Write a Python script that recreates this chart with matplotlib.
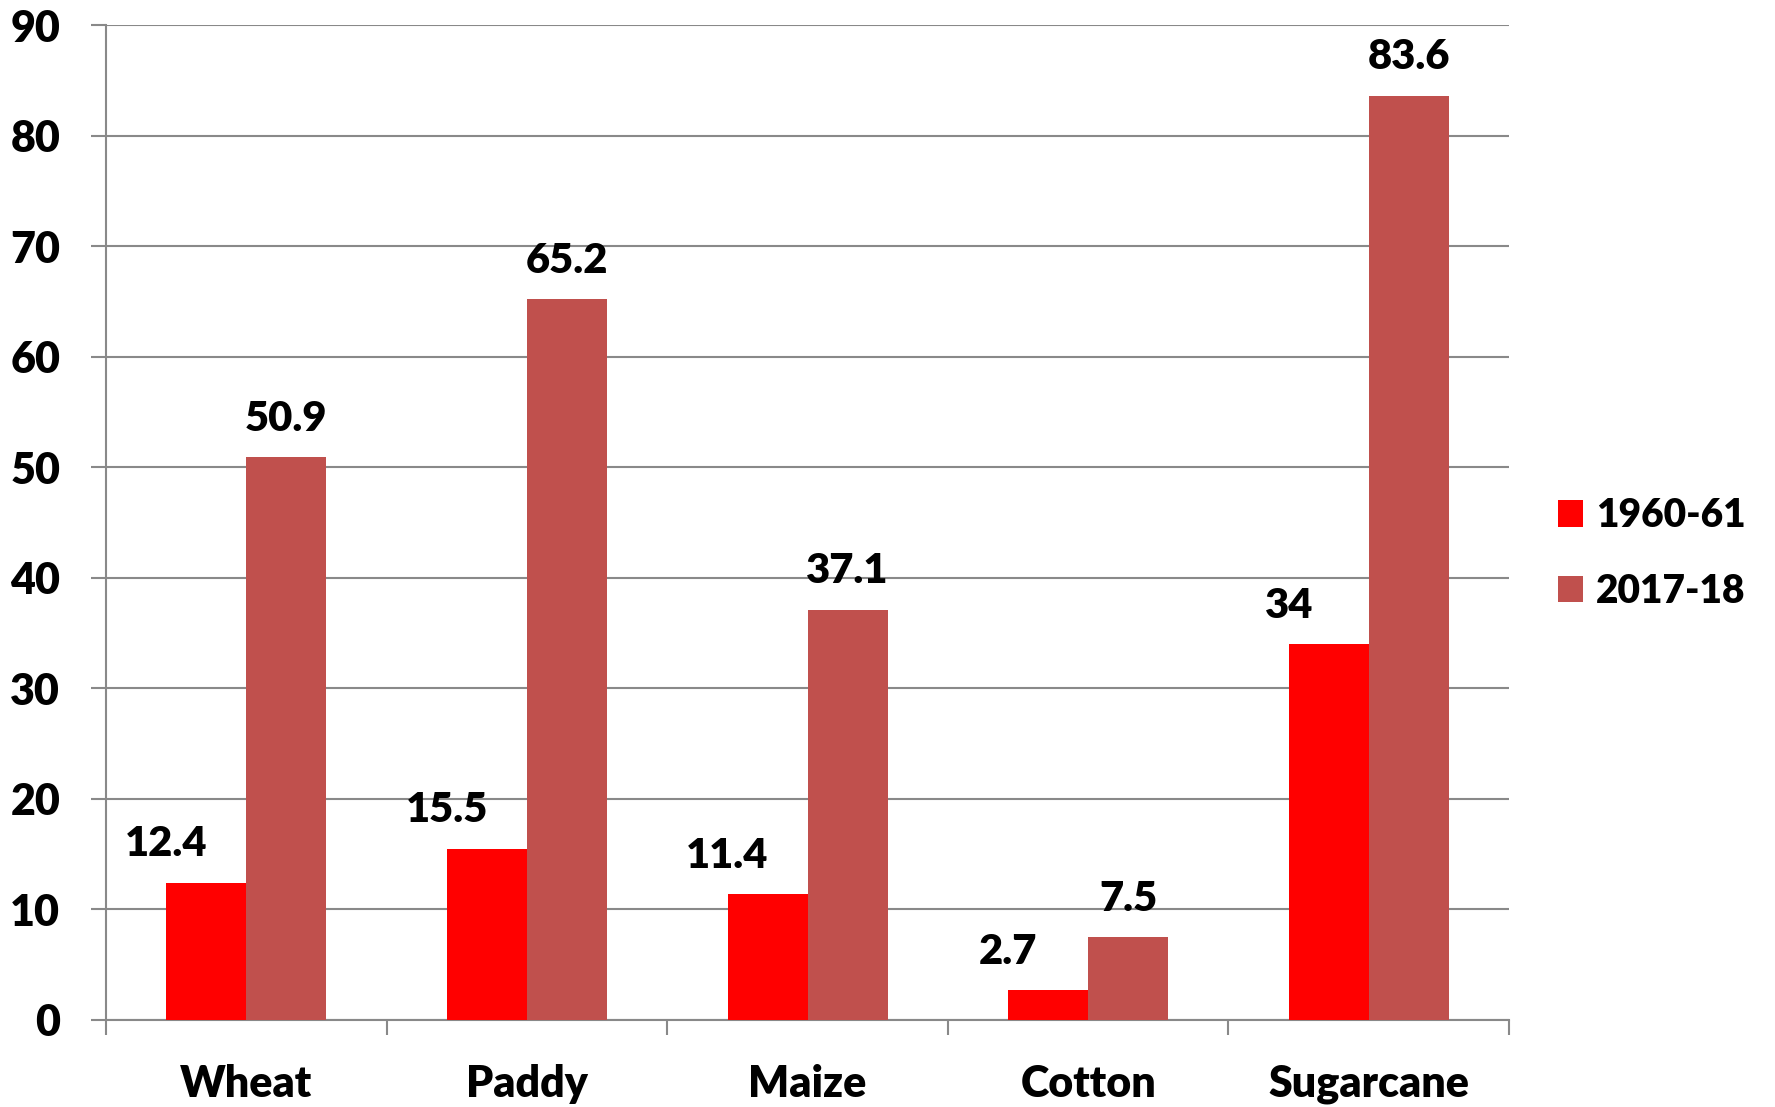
import matplotlib.pyplot as plt
import numpy as np

crops = ['Wheat', 'Paddy', 'Maize', 'Cotton', 'Sugarcane']
yield_1960 = [12.4, 15.5, 11.4, 2.7, 34]
yield_2017 = [50.9, 65.2, 37.1, 7.5, 83.6]
series = ['1960-61', '2017-18']
colors = ['#FF0000', '#C0504D']

plt.rcParams['font.family'] = ['Lato', 'DejaVu Sans']
plt.rcParams['font.weight'] = 'heavy'
wt = 'heavy'

fig = plt.figure(figsize=(17.75, 11.07), dpi=100)
ax = fig.add_axes([0.0597, 0.0786, 0.7905, 0.8988])

x = np.arange(len(crops))
w = 0.285
b1 = ax.bar(x - w / 2, yield_1960, w, color=colors[0], label=series[0], zorder=3)
b2 = ax.bar(x + w / 2, yield_2017, w, color=colors[1], label=series[1], zorder=3)

# data labels: Excel-style, red labels sit over the left edge of the bar
for xi, v in zip(x, yield_1960):
    ax.annotate('%g' % v, (xi - w, v), xytext=(0, 14), textcoords='offset points',
                ha='center', va='bottom', fontsize=30, fontweight=wt)
for xi, v in zip(x, yield_2017):
    ax.annotate('%g' % v, (xi + w / 2, v), xytext=(0, 14), textcoords='offset points',
                ha='center', va='bottom', fontsize=30, fontweight=wt)

ax.set_xlim(-0.5, len(crops) - 0.5)
ax.set_ylim(0, 90)
ax.set_yticks(np.arange(0, 91, 10))
ax.yaxis.grid(True, color='#898989', linewidth=1.5, zorder=0)
ax.set_xticks(x)
ax.set_xticklabels(crops, fontsize=31, fontweight=wt)
ax.set_xticks(np.arange(-0.5, len(crops), 1), minor=True)
ax.tick_params(axis='x', which='major', length=0, pad=32)
ax.tick_params(axis='x', which='minor', length=11, width=1.5, color='#898989')
ax.tick_params(axis='y', length=11, width=1.5, color='#898989', pad=22, labelsize=31)
for lbl in ax.get_yticklabels():
    lbl.set_fontweight(wt)

for s in ['top', 'right']:
    ax.spines[s].set_visible(False)
for s in ['left', 'bottom']:
    ax.spines[s].set_color('#898989')
    ax.spines[s].set_linewidth(1.5)

fig.legend(handles=[b1, b2], loc='center left', bbox_to_anchor=(0.8775, 0.5),
           frameon=False, borderpad=0, borderaxespad=0, handlelength=0.66, handleheight=0.66,
           handletextpad=0.33, labelspacing=1.0, prop={'weight': wt, 'size': 28})

fig.savefig('out.png', dpi=100)
